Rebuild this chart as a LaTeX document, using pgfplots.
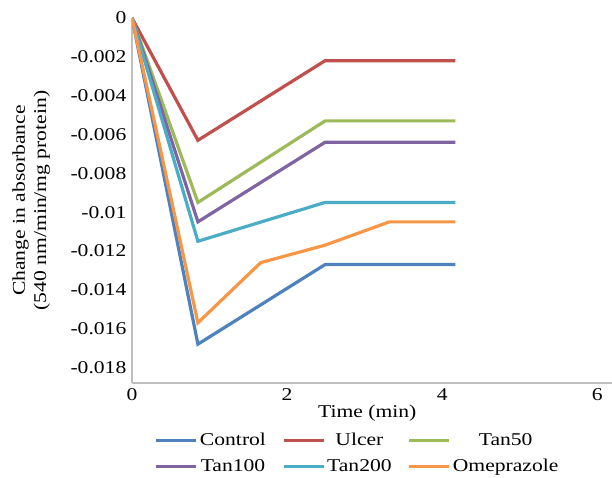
\documentclass[border=0pt]{standalone}
\usepackage{fontspec}
\setmainfont{Liberation Serif}[FakeStretch=1.2]
\usepackage{pgfplots}
\pgfplotsset{compat=1.18}
\definecolor{cControl}{HTML}{4F81BD}
\definecolor{cUlcer}{HTML}{C0504D}
\definecolor{cTanA}{HTML}{9BBB59}
\definecolor{cTanB}{HTML}{8064A2}
\definecolor{cTanC}{HTML}{4BACC6}
\definecolor{cOme}{HTML}{F79646}
\begin{document}
\begin{tikzpicture}[x=1pt,y=1pt]
\path[use as bounding box] (0,0) rectangle (612,478);
\begin{axis}[name=ax, at={(132pt,95pt)}, anchor=south west,
  scale only axis, width=480pt, height=365pt,
  xmin=0, xmax=6.19, ymin=-0.0188, ymax=0,
  axis lines=left, axis line style={draw=black!25, line width=1.2pt, -},
  tick style={draw=none},
  xtick={0,2,4,6},
  ytick={-0.018,-0.016,-0.014,-0.012,-0.01,-0.008,-0.006,-0.004,-0.002,0},
  scaled y ticks=false,
  yticklabel style={/pgf/number format/.cd, fixed, precision=3},
  /pgf/number format/assume math mode=true,
  tick label style={font=\fontsize{18}{21}\selectfont},
  label style={font=\fontsize{18}{21}\selectfont},
  xlabel={Time (min)},
  xlabel style={at={(axis description cs:0.49,0)}, anchor=center, yshift=-30pt},
  ylabel={Change in absorbance\\(540 nm/min/mg protein)},
  ylabel style={align=center, at={(axis description cs:-0.21,0.5)}, anchor=center},
  legend style={at={(0.47,0)}, anchor=north, yshift=-46pt, draw=none,
    font=\fontsize{18}{21}\selectfont, legend columns=3,
    /tikz/every even column/.append style={column sep=14pt},
    row sep=8pt},
  legend image code/.code={\draw[#1] (0pt,0pt) -- (40pt,0pt);},
  every axis plot/.append style={line width=3.2pt, mark=none},
]
\addplot[cControl] coordinates {(0,0) (0.85,-0.0168) (2.49,-0.0127) (4.17,-0.0127)};
\addlegendentry{Control}
\addplot[cUlcer] coordinates {(0,0) (0.85,-0.0063) (2.49,-0.0022) (4.17,-0.0022)};
\addlegendentry{Ulcer}
\addplot[cTanA] coordinates {(0,0) (0.85,-0.0095) (2.49,-0.0053) (4.17,-0.0053)};
\addlegendentry{Tan50}
\addplot[cTanB] coordinates {(0,0) (0.85,-0.0105) (2.49,-0.0064) (4.17,-0.0064)};
\addlegendentry{Tan100}
\addplot[cTanC] coordinates {(0,0) (0.85,-0.0115) (2.49,-0.0095) (4.17,-0.0095)};
\addlegendentry{Tan200}
\addplot[cOme] coordinates {(0,0) (0.85,-0.0157) (1.66,-0.0126) (2.49,-0.0117) (3.32,-0.0105) (4.17,-0.0105)};
\addlegendentry{Omeprazole}
\end{axis}
\end{tikzpicture}
\end{document}
